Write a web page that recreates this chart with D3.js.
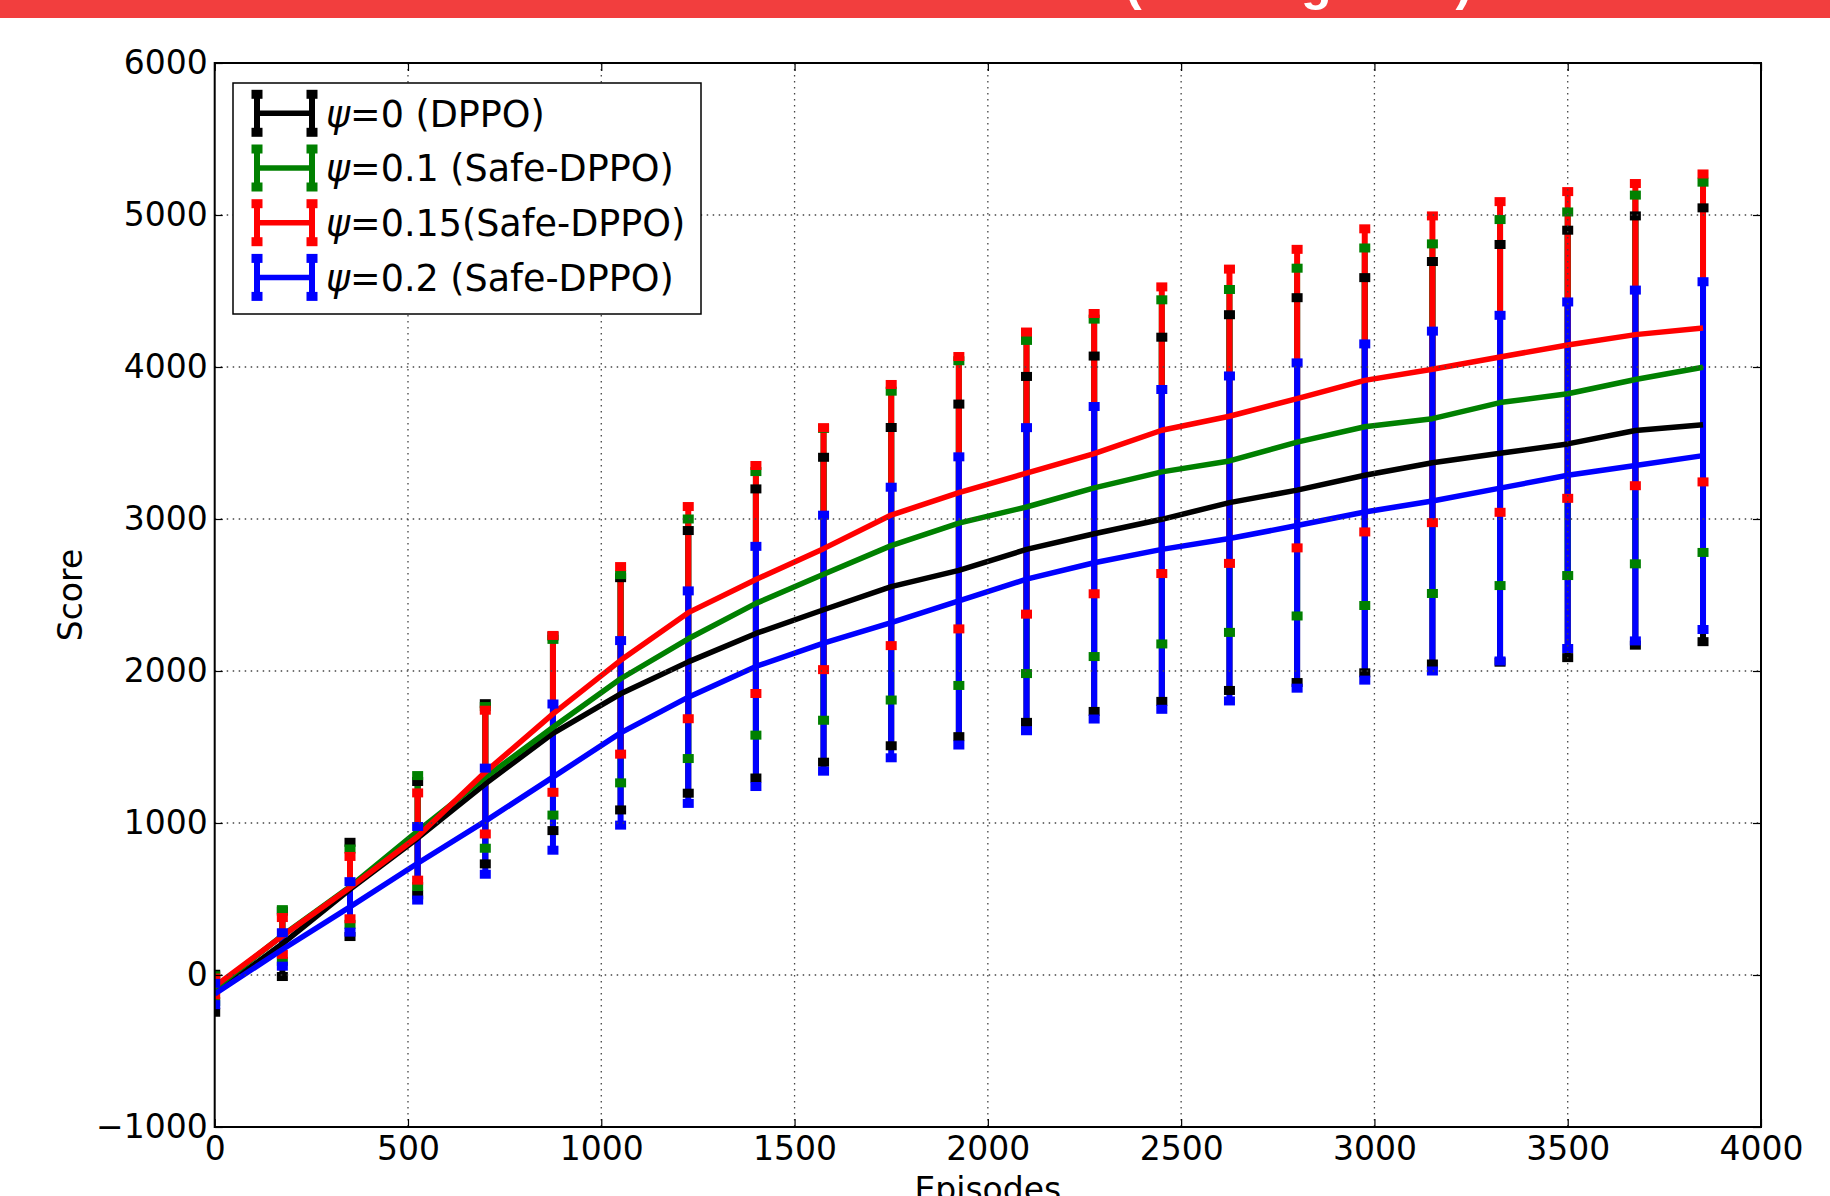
<!DOCTYPE html>
<html>
<head>
<meta charset="utf-8">
<script src="https://cdn.jsdelivr.net/npm/d3@7"></script>
<style>
  body { margin: 0; background: #fff; }
  text { font-family: "DejaVu Sans", sans-serif; }
</style>
</head>
<body>
<svg id="chart" width="1830" height="1196"></svg>
<script>
// episodes where the error bars sit
const episodes = [0, 175, 350, 525, 700, 875, 1050, 1225, 1400, 1575, 1750, 1925,
                  2100, 2275, 2450, 2625, 2800, 2975, 3150, 3325, 3500, 3675, 3850];

const meanPsi0   = [-120, 205, 563, 900, 1258, 1590, 1850, 2060, 2247, 2403, 2555, 2662,
                    2800, 2903, 2998, 3108, 3190, 3288, 3370, 3432, 3494, 3582, 3620];
const stdPsi0    = [125, 215, 310, 373, 527, 640, 764, 864, 951, 1003, 1047, 1094,
                    1138, 1169, 1198, 1236, 1266, 1300, 1324, 1374, 1406, 1412, 1427];

const meanPsi01  = [-90, 260, 581, 947, 1300, 1630, 1949, 2212, 2445, 2636, 2825, 2973,
                    3079, 3205, 3310, 3382, 3506, 3607, 3660, 3766, 3824, 3918, 3998];
const stdPsi01   = [85, 170, 248, 365, 466, 578, 685, 788, 867, 960, 1016, 1068,
                    1096, 1110, 1132, 1128, 1144, 1176, 1150, 1204, 1196, 1213, 1218];

const meanPsi015 = [-75, 257, 575, 911, 1335, 1718, 2070, 2384, 2602, 2805, 3026, 3173,
                    3302, 3430, 3584, 3676, 3792, 3912, 3985, 4066, 4145, 4213, 4257];
const stdPsi015  = [55, 121, 205, 287, 407, 516, 617, 698, 750, 796, 859, 896,
                    928, 922, 943, 968, 982, 997, 1009, 1022, 1009, 994, 1013];

const meanPsi02  = [-125, 168, 448, 735, 1012, 1302, 1593, 1828, 2030, 2183, 2319, 2461,
                    2604, 2712, 2800, 2872, 2957, 3046, 3118, 3203, 3288, 3352, 3417];
const stdPsi02   = [70, 110, 166, 242, 349, 481, 607, 699, 790, 842, 890, 948,
                    997, 1028, 1052, 1069, 1070, 1106, 1118, 1137, 1140, 1154, 1144];

const seriesNames = ["=0 (DPPO)", "=0.1 (Safe-DPPO)", "=0.15(Safe-DPPO)", "=0.2 (Safe-DPPO)"];
const xTicks = [0, 500, 1000, 1500, 2000, 2500, 3000, 3500, 4000];
const yTicks = [-1000, 0, 1000, 2000, 3000, 4000, 5000, 6000];

const series = [
  { name: seriesNames[0], mean: meanPsi0,   std: stdPsi0,   color: "#000000" },
  { name: seriesNames[1], mean: meanPsi01,  std: stdPsi01,  color: "#008000" },
  { name: seriesNames[2], mean: meanPsi015, std: stdPsi015, color: "#ff0000" },
  { name: seriesNames[3], mean: meanPsi02,  std: stdPsi02,  color: "#0000ff" }
];

const svg = d3.select("#chart");
const pLeft = 214.7, pRight = 1761, pTop = 63, pBottom = 1127;

const x = d3.scaleLinear().domain([0, 4000]).range([pLeft, pRight]);
const y = d3.scaleLinear().domain([-1000, 6000]).range([pBottom, pTop]);

svg.append("rect").attr("width", 1830).attr("height", 1196).attr("fill", "#fff");

// red banner, title cut off at the top edge (only descenders show)
svg.append("rect").attr("x", 0).attr("y", 0).attr("width", 1830).attr("height", 18)
  .attr("fill", "#f23e3e");
svg.append("text").attr("x", 1125).attr("y", 0)
  .attr("fill", "#fff").attr("font-weight", "bold")
  .style("font-family", "'Liberation Sans', Arial, sans-serif")
  .attr("font-size", 50).text("(Walking Task)");

svg.append("clipPath").attr("id", "plotclip").append("rect")
  .attr("x", pLeft).attr("y", pTop).attr("width", pRight - pLeft).attr("height", pBottom - pTop);

const plot = svg.append("g").attr("clip-path", "url(#plotclip)");

// error bars first, then lines and caps
series.forEach(function (s) {
  plot.append("g").selectAll("line").data(episodes).join("line")
    .attr("x1", d => x(d)).attr("x2", d => x(d))
    .attr("y1", (d, i) => y(s.mean[i] - s.std[i]))
    .attr("y2", (d, i) => y(s.mean[i] + s.std[i]))
    .attr("stroke", s.color).attr("stroke-width", 6);
});

const line = d3.line().x(d => x(d[0])).y(d => y(d[1]));
const capW = 11, capH = 9;

series.forEach(function (s) {
  plot.append("path")
    .datum(episodes.map((e, i) => [e, s.mean[i]]))
    .attr("d", line).attr("fill", "none")
    .attr("stroke", s.color).attr("stroke-width", 5.5)
    .attr("stroke-linejoin", "round");
  const caps = [];
  episodes.forEach(function (e, i) {
    caps.push([e, s.mean[i] - s.std[i]]);
    caps.push([e, s.mean[i] + s.std[i]]);
  });
  plot.append("g").selectAll("rect").data(caps).join("rect")
    .attr("x", d => x(d[0]) - capW / 2).attr("y", d => y(d[1]) - capH / 2)
    .attr("width", capW).attr("height", capH).attr("fill", s.color);
});

// dotted grid on top of data
const grid = svg.append("g").attr("stroke", "#444").attr("stroke-width", 1.3)
  .attr("stroke-dasharray", "1.5,4.5");
grid.selectAll(".gx").data(xTicks.slice(1, -1)).join("line")
  .attr("x1", d => x(d)).attr("x2", d => x(d)).attr("y1", pTop).attr("y2", pBottom);
grid.selectAll(".gy").data(yTicks.slice(1, -1)).join("line")
  .attr("x1", pLeft).attr("x2", pRight).attr("y1", d => y(d)).attr("y2", d => y(d));

// axes, ticks pointing inwards
const fmt = d => d < 0 ? "\u2212" + Math.abs(d) : String(d);
svg.append("g").attr("transform", `translate(0,${pBottom})`)
  .call(d3.axisBottom(x).tickValues(xTicks).tickSize(-8).tickPadding(10).tickFormat(fmt));
svg.append("g").attr("transform", `translate(${pLeft},0)`)
  .call(d3.axisLeft(y).tickValues(yTicks).tickSize(-8).tickPadding(7).tickFormat(fmt));
svg.append("g").attr("transform", `translate(0,${pTop})`)
  .call(d3.axisTop(x).tickValues(xTicks).tickSize(-8).tickFormat(""));
svg.append("g").attr("transform", `translate(${pRight},0)`)
  .call(d3.axisRight(y).tickValues(yTicks).tickSize(-8).tickFormat(""));

svg.selectAll(".domain").remove();
svg.selectAll(".tick line").attr("stroke", "#000").attr("stroke-width", 1.2);
svg.selectAll(".tick text").attr("font-size", 33).attr("fill", "#000")
  .style("font-family", "'DejaVu Sans', sans-serif");

svg.append("rect").attr("x", pLeft).attr("y", pTop)
  .attr("width", pRight - pLeft).attr("height", pBottom - pTop)
  .attr("fill", "none").attr("stroke", "#000").attr("stroke-width", 2);

// axis labels
svg.append("text").attr("transform", `translate(82,${(pTop + pBottom) / 2}) rotate(-90)`)
  .attr("text-anchor", "middle").attr("font-size", 33).text("Score");
svg.append("text").attr("x", (pLeft + pRight) / 2).attr("y", 1201)
  .attr("text-anchor", "middle").attr("font-size", 33).text("Episodes");

// legend
const lg = svg.append("g");
lg.append("rect").attr("x", 233).attr("y", 83).attr("width", 468).attr("height", 231)
  .attr("fill", "#fff").attr("stroke", "#000").attr("stroke-width", 1.5);
series.forEach(function (s, i) {
  const cy = 113.3 + i * 54.7;
  const row = lg.append("g");
  row.append("line").attr("x1", 257).attr("x2", 312).attr("y1", cy).attr("y2", cy)
    .attr("stroke", s.color).attr("stroke-width", 5.5);
  [257, 312].forEach(function (bx) {
    row.append("line").attr("x1", bx).attr("x2", bx).attr("y1", cy - 19).attr("y2", cy + 19)
      .attr("stroke", s.color).attr("stroke-width", 6);
    [cy - 19, cy + 19].forEach(function (by) {
      row.append("rect").attr("x", bx - capW / 2).attr("y", by - capH / 2)
        .attr("width", capW).attr("height", capH).attr("fill", s.color);
    });
  });
  const t = row.append("text").attr("x", 326).attr("y", cy + 13.4).attr("font-size", 36.5);
  t.append("tspan").attr("font-style", "italic").text("\u03c8");
  t.append("tspan").text(s.name);
});
</script>
</body>
</html>
